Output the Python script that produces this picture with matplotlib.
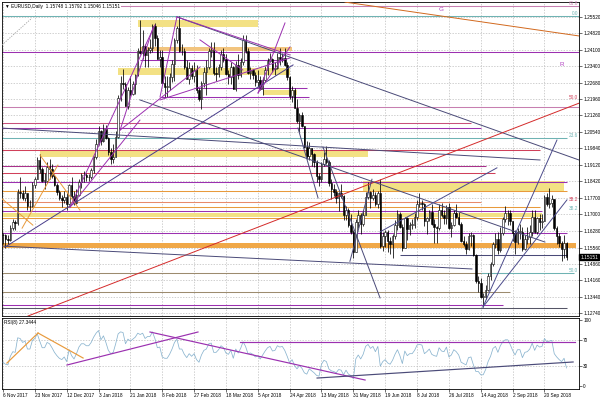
import matplotlib
matplotlib.use("Agg")
import matplotlib.pyplot as plt
import matplotlib.transforms as mtransforms
import numpy as np

plt.rcParams['font.family'] = ['Liberation Sans', 'DejaVu Sans']

# EURUSD daily bars, 6 Nov 2017 .. 4 Oct 2018
close = [
    1.1610, 1.1595, 1.1590, 1.1640, 1.1665, 1.1663, 1.1795, 1.1793, 1.1770, 1.1790, 1.1735, 1.1735, 1.1825,
    1.1853, 1.1935, 1.1895, 1.1845, 1.1845, 1.1905, 1.1895, 1.1865, 1.1825, 1.1795, 1.1770, 1.1760, 1.1775,
    1.1745, 1.1825, 1.1780, 1.1750, 1.1785, 1.1840, 1.1870, 1.1870, 1.1860, 1.1860, 1.1890, 1.1945, 1.2005,
    1.2060, 1.2015, 1.2068, 1.2030, 1.1967, 1.1937, 1.1948, 1.2035, 1.2200, 1.2265, 1.2260, 1.2165, 1.2235,
    1.2220, 1.2260, 1.2300, 1.2405, 1.2395, 1.2425, 1.2385, 1.2410, 1.2415, 1.2510, 1.2460, 1.2370, 1.2380,
    1.2265, 1.2250, 1.2250, 1.2290, 1.2350, 1.2450, 1.2505, 1.2405, 1.2405, 1.2337, 1.2285, 1.2330, 1.2295,
    1.2320, 1.2235, 1.2195, 1.2265, 1.2315, 1.2335, 1.2405, 1.2410, 1.2310, 1.2305, 1.2335, 1.2390, 1.2370,
    1.2305, 1.2290, 1.2335, 1.2240, 1.2345, 1.2300, 1.2355, 1.2450, 1.2405, 1.2310, 1.2320, 1.2300, 1.2270,
    1.2280, 1.2240, 1.2280, 1.2320, 1.2360, 1.2370, 1.2325, 1.2330, 1.2380, 1.2370, 1.2375, 1.2345, 1.2290,
    1.2210, 1.2235, 1.2160, 1.2100, 1.2130, 1.2080, 1.1990, 1.1950, 1.1985, 1.1960, 1.1925, 1.1865, 1.1850,
    1.1915, 1.1940, 1.1925, 1.1835, 1.1810, 1.1795, 1.1770, 1.1790, 1.1780, 1.1695, 1.1720, 1.1655, 1.1625,
    1.1535, 1.1665, 1.1695, 1.1660, 1.1695, 1.1775, 1.1795, 1.1770, 1.1785, 1.1745, 1.1790, 1.1565, 1.1605,
    1.1625, 1.1585, 1.1570, 1.1605, 1.1655, 1.1700, 1.1645, 1.1555, 1.1685, 1.1635, 1.1655, 1.1655, 1.1690,
    1.1745, 1.1750, 1.1745, 1.1670, 1.1685, 1.1710, 1.1660, 1.1645, 1.1640, 1.1720, 1.1695, 1.1685, 1.1730,
    1.1640, 1.1655, 1.1705, 1.1690, 1.1660, 1.1585, 1.1570, 1.1550, 1.1605, 1.1610, 1.1525, 1.1410, 1.1405,
    1.1345, 1.1345, 1.1375, 1.1435, 1.1485, 1.1570, 1.1595, 1.1545, 1.1620, 1.1680, 1.1705, 1.1705, 1.1670,
    1.1620, 1.1580, 1.1625, 1.1625, 1.1550, 1.1595, 1.1600, 1.1625, 1.1690, 1.1625, 1.1685, 1.1665, 1.1670,
    1.1775, 1.1745, 1.1750, 1.1765, 1.1640, 1.1605, 1.1575, 1.1550, 1.1575, 1.15151,
]
high = [
    1.1620, 1.1615, 1.1610, 1.1655, 1.1680, 1.1675, 1.1810, 1.1860, 1.1805, 1.1820, 1.1790, 1.1760, 1.1840,
    1.1860, 1.1945, 1.1960, 1.1905, 1.1880, 1.1925, 1.1940, 1.1915, 1.1875, 1.1835, 1.1805, 1.1785, 1.1800,
    1.1790, 1.1830, 1.1860, 1.1800, 1.1810, 1.1850, 1.1880, 1.1885, 1.1880, 1.1875, 1.1900, 1.1950, 1.2025,
    1.2080, 1.2065, 1.2090, 1.2085, 1.2035, 1.1985, 1.2005, 1.2060, 1.2215, 1.2295, 1.2325, 1.2270, 1.2250,
    1.2295, 1.2275, 1.2305, 1.2415, 1.2537, 1.2495, 1.2435, 1.2420, 1.2455, 1.2520, 1.2525, 1.2475, 1.2410,
    1.2410, 1.2295, 1.2295, 1.2310, 1.2365, 1.2460, 1.2510, 1.2555, 1.2435, 1.2415, 1.2365, 1.2355, 1.2345,
    1.2355, 1.2345, 1.2245, 1.2275, 1.2335, 1.2365, 1.2415, 1.2445, 1.2445, 1.2335, 1.2350, 1.2410, 1.2415,
    1.2390, 1.2320, 1.2355, 1.2340, 1.2360, 1.2390, 1.2375, 1.2475, 1.2475, 1.2415, 1.2335, 1.2325, 1.2315,
    1.2320, 1.2295, 1.2290, 1.2340, 1.2375, 1.2395, 1.2375, 1.2355, 1.2395, 1.2415, 1.2395, 1.2415, 1.2355,
    1.2295, 1.2255, 1.2245, 1.2195, 1.2135, 1.2140, 1.2080, 1.2015, 1.2010, 1.1985, 1.1965, 1.1935, 1.1880,
    1.1925, 1.1970, 1.1995, 1.1935, 1.1850, 1.1830, 1.1810, 1.1795, 1.1830, 1.1785, 1.1735, 1.1725, 1.1700,
    1.1630, 1.1680, 1.1720, 1.1705, 1.1720, 1.1795, 1.1840, 1.1800, 1.1810, 1.1795, 1.1800, 1.1850, 1.1625,
    1.1630, 1.1630, 1.1600, 1.1615, 1.1675, 1.1720, 1.1710, 1.1660, 1.1690, 1.1690, 1.1665, 1.1680, 1.1705,
    1.1760, 1.1790, 1.1760, 1.1750, 1.1690, 1.1720, 1.1745, 1.1680, 1.1650, 1.1745, 1.1750, 1.1720, 1.1740,
    1.1750, 1.1665, 1.1720, 1.1745, 1.1710, 1.1665, 1.1605, 1.1585, 1.1620, 1.1625, 1.1615, 1.1530, 1.1435,
    1.1425, 1.1360, 1.1395, 1.1445, 1.1495, 1.1580, 1.1620, 1.1625, 1.1645, 1.1690, 1.1735, 1.1720, 1.1720,
    1.1625, 1.1630, 1.1640, 1.1660, 1.1645, 1.1610, 1.1645, 1.1655, 1.1720, 1.1720, 1.1690, 1.1700, 1.1700,
    1.1785, 1.1790, 1.1815, 1.1785, 1.1765, 1.1650, 1.1620, 1.1585, 1.1610, 1.15792,
]
low = [
    1.1570, 1.1555, 1.1570, 1.1585, 1.1630, 1.1630, 1.1655, 1.1770, 1.1760, 1.1755, 1.1720, 1.1715, 1.1730,
    1.1815, 1.1850, 1.1880, 1.1840, 1.1810, 1.1835, 1.1850, 1.1855, 1.1820, 1.1785, 1.1760, 1.1730, 1.1750,
    1.1718, 1.1740, 1.1770, 1.1740, 1.1745, 1.1780, 1.1815, 1.1840, 1.1845, 1.1845, 1.1850, 1.1880, 1.1940,
    1.2000, 1.2000, 1.2010, 1.2025, 1.1955, 1.1915, 1.1920, 1.1950, 1.2030, 1.2190, 1.2240, 1.2165, 1.2155,
    1.2210, 1.2215, 1.2220, 1.2295, 1.2390, 1.2370, 1.2335, 1.2335, 1.2395, 1.2400, 1.2425, 1.2370, 1.2335,
    1.2260, 1.2205, 1.2205, 1.2235, 1.2270, 1.2275, 1.2440, 1.2400, 1.2385, 1.2325, 1.2285, 1.2260, 1.2285,
    1.2270, 1.2225, 1.2190, 1.2155, 1.2250, 1.2215, 1.2325, 1.2380, 1.2300, 1.2275, 1.2290, 1.2320, 1.2355,
    1.2300, 1.2260, 1.2260, 1.2240, 1.2230, 1.2285, 1.2290, 1.2345, 1.2395, 1.2305, 1.2285, 1.2285, 1.2255,
    1.2250, 1.2235, 1.2215, 1.2270, 1.2300, 1.2355, 1.2315, 1.2300, 1.2325, 1.2345, 1.2355, 1.2340, 1.2280,
    1.2195, 1.2185, 1.2160, 1.2095, 1.2055, 1.2075, 1.1985, 1.1940, 1.1935, 1.1910, 1.1905, 1.1840, 1.1820,
    1.1840, 1.1910, 1.1915, 1.1820, 1.1765, 1.1780, 1.1750, 1.1715, 1.1770, 1.1675, 1.1675, 1.1645, 1.1615,
    1.1510, 1.1535, 1.1640, 1.1615, 1.1650, 1.1700, 1.1765, 1.1725, 1.1760, 1.1735, 1.1725, 1.1555, 1.1540,
    1.1560, 1.1535, 1.1530, 1.1510, 1.1595, 1.1630, 1.1640, 1.1540, 1.1580, 1.1590, 1.1610, 1.1635, 1.1640,
    1.1675, 1.1730, 1.1720, 1.1650, 1.1615, 1.1670, 1.1655, 1.1575, 1.1575, 1.1630, 1.1690, 1.1660, 1.1660,
    1.1635, 1.1600, 1.1650, 1.1685, 1.1655, 1.1580, 1.1565, 1.1530, 1.1545, 1.1565, 1.1520, 1.1405, 1.1365,
    1.1340, 1.1300, 1.1335, 1.1370, 1.1415, 1.1475, 1.1555, 1.1530, 1.1535, 1.1610, 1.1665, 1.1655, 1.1655,
    1.1585, 1.1530, 1.1570, 1.1595, 1.1540, 1.1545, 1.1570, 1.1570, 1.1605, 1.1620, 1.1615, 1.1630, 1.1640,
    1.1670, 1.1735, 1.1725, 1.1730, 1.1630, 1.1570, 1.1560, 1.1500, 1.1510, 1.15046,
]
first_open = 1.1612

# RSI(8)
rsi = [
    36, 33, 32, 45, 52, 51, 73, 72, 66, 68, 56, 56, 69,
    72, 79, 68, 58, 58, 66, 64, 58, 51, 46, 42, 40, 44,
    37, 55, 46, 41, 49, 59, 64, 64, 61, 61, 66, 74, 80,
    84, 70, 76, 66, 54, 49, 51, 64, 79, 82, 81, 64, 71,
    68, 71, 74, 80, 78, 80, 72, 75, 75, 82, 72, 58, 59,
    44, 42, 42, 48, 56, 66, 71, 56, 56, 48, 43, 49, 45,
    49, 40, 36, 47, 54, 56, 64, 65, 51, 51, 55, 61, 58,
    50, 48, 54, 42, 56, 50, 57, 67, 60, 49, 50, 48, 44,
    46, 41, 47, 53, 58, 60, 53, 54, 61, 59, 60, 54, 45,
    35, 40, 31, 26, 31, 27, 20, 18, 26, 23, 20, 16, 15,
    33, 39, 37, 26, 23, 22, 20, 25, 24, 17, 24, 18, 16,
    11, 41, 47, 41, 48, 60, 63, 57, 60, 52, 60, 30, 37,
    40, 35, 33, 39, 48, 55, 46, 34, 53, 46, 49, 49, 54,
    62, 63, 62, 49, 52, 56, 48, 46, 45, 58, 53, 52, 59,
    44, 47, 55, 52, 47, 36, 34, 32, 43, 44, 32, 22, 22,
    17, 17, 25, 37, 45, 57, 60, 51, 61, 67, 70, 70, 63,
    54, 47, 55, 55, 43, 51, 52, 56, 65, 54, 62, 59, 60,
    72, 67, 68, 69, 49, 44, 40, 37, 42, 27.3444,
]

date_labels = ["6 Nov 2017", "23 Nov 2017", "12 Dec 2017", "3 Jan 2018", "21 Jan 2018",
               "8 Feb 2018", "27 Feb 2018", "18 Mar 2018", "5 Apr 2018", "24 Apr 2018",
               "13 May 2018", "31 May 2018", "19 Jun 2018", "8 Jul 2018", "26 Jul 2018",
               "14 Aug 2018", "2 Sep 2018", "20 Sep 2018"]
bars_per_label = 13
price_ticks = [1.25520, 1.24820, 1.24100, 1.23400, 1.22680, 1.21960, 1.21260, 1.20540,
               1.19840, 1.19120, 1.18420, 1.17700, 1.17000, 1.16280, 1.15560, 1.14860,
               1.14160, 1.13440, 1.12740]
rsi_ticks = [0, 30, 70, 100]

# horizontal levels: price, first bar, last bar
lvl_price = [1.2598, 1.2555, 1.2400, 1.2163, 1.2365, 1.2244, 1.2206, 1.2094, 1.2072, 1.2029,
             1.1977, 1.1908, 1.1878, 1.1839, 1.1800, 1.1753, 1.1731, 1.1714, 1.1684, 1.1619,
             1.1524, 1.1446, 1.1446, 1.1364, 1.1308, 1.1295]
lvl_start = [40, -1, -1, -1, 56, 78, 64, -1, -1, -1,
             -1, -1, -1, -1, -1, -1, -1, -1, -1, -1,
             162, -1, 195, -1, -1, -1]
lvl_end = [236, 236, 236, 236, 115, 124, 125, 191, 195, 230,
           219, 197, 201, 230, 230, 195, 219, 220, 220, 230,
           230, 207, 233, 207, 204, 230]

# shaded zones: low, high, first bar, last bar
band_lo = [1.2508, 1.2404, 1.2301, 1.2214, 1.1947, 1.1796, 1.1688, 1.1554]
band_hi = [1.2538, 1.2421, 1.2331, 1.2236, 1.1977, 1.1843, 1.1705, 1.1576]
band_start = [55, 56, 47, 106, 15, 147, -1, -1]
band_end = [104, 118, 117, 120, 149, 229, 220, 234]

# trend lines: (bar, price) -> (bar, price)
tl_x0 = [139.6, 71.0, 10.2, 0.8, -1.2, -1.2, 55.9, 120.4, 130.6, 141.6, 195.9, 195.9, 153.9,
         -1.2, 7.8, 15.1, 47.8, 27.3, 27.3, 47.8, 71.0, 64.1, 71.0, 104.1, 104.1, 80.4]
tl_p0 = [1.2615, 1.2551, 1.1261, 1.1558, 1.2072, 1.1563, 1.2193, 1.2072, 1.1990, 1.1497, 1.1300, 1.1300, 1.1624,
         1.1774, 1.1640, 1.1955, 1.2063, 1.1729, 1.1729, 1.2063, 1.2551, 1.2193, 1.2551, 1.2223, 1.2223, 1.2452]
tl_x1 = [235.1, 235.1, 235.1, 118.4, 219.2, 191.4, 221.2, 128.6, 153.9, 150.6, 226.1, 230.2, 201.6,
         12.2, 22.4, 31.4, 61.2, 55.9, 62.0, 80.4, 117.1, 117.1, 64.1, 115.1, 117.1, 97.9]
tl_p1 = [1.2469, 1.1934, 1.2179, 1.2344, 1.1934, 1.1464, 1.1580, 1.1770, 1.1339, 1.1851, 1.2020, 1.1762, 1.1900,
         1.1653, 1.1912, 1.1718, 1.2503, 1.2106, 1.2516, 1.2335, 1.2387, 1.2374, 1.2206, 1.2525, 1.2421, 1.2322]

# RSI panel lines
r_x0 = [1.6, 14.3, 26.1, 60.0, 96.7, 128.2]
r_v0 = [34.8, 80.3, 31.8, 81.8, 66.7, 12.1]
r_x1 = [14.3, 32.7, 79.6, 147.8, 233.5, 232.7]
r_v1 = [80.3, 42.4, 81.8, 9.1, 66.7, 36.4]

fib_text = ["61.8", "0.0", "50.0", "23.6", "38.2", "38.2", "50.0"]
fib_price = [1.2598, 1.2555, 1.2193, 1.2029, 1.1753, 1.1714, 1.1446]

# colours
MAUVE, TEAL, PURPLE, PINK = '#c77fb0', '#6fb3b3', '#9b30b0', '#c8507a'
CRIMSON, MAGENTA, ORANGE, SALMON = '#d0405a', '#a8308a', '#e89a3c', '#e88a6a'
SLATE, TAUPE, DGRAY = '#4a4a78', '#9c8b6e', '#555566'
YELLOW, LORANGE = '#f3e184', '#f2c47e'

lvl_color = [MAUVE, TEAL, PURPLE, MAUVE, PURPLE, PURPLE, PURPLE, PINK, PURPLE, TEAL,
             CRIMSON, MAGENTA, CRIMSON, PURPLE, ORANGE, SALMON, ORANGE, PURPLE, ORANGE, PURPLE,
             SLATE, TAUPE, TEAL, TAUPE, PURPLE, DGRAY]
band_color = [YELLOW, LORANGE, YELLOW, YELLOW, YELLOW, YELLOW, YELLOW, '#f0a848']
tl_color = ['#d2691e', SLATE, '#d42a2a', '#483d8b', SLATE, SLATE, SLATE, SLATE, SLATE, SLATE,
            '#4b4b8b', '#4b4b8b', '#4b4b8b',
            ORANGE, ORANGE, ORANGE, PURPLE, PURPLE, PURPLE, PURPLE, PURPLE, PURPLE, PURPLE,
            PURPLE, PURPLE, PURPLE]
r_color = [ORANGE, ORANGE, PURPLE, PURPLE, PURPLE, SLATE]
fib_color = [MAUVE, TEAL, CRIMSON, TEAL, CRIMSON, TEAL, TEAL]

n = min(len(close), len(high), len(low))
idx = np.arange(n)
c = np.array(close[:n])
o = np.r_[first_open, c[:-1]]
h = np.maximum(np.array(high[:n]), np.maximum(o, c))
l = np.minimum(np.array(low[:n]), np.minimum(o, c))

fig = plt.figure(figsize=(6, 4), dpi=100)
ax = fig.add_axes([2 / 600, 84 / 400, 577 / 600, 314 / 400])
ax2 = fig.add_axes([2 / 600, 11 / 400, 577 / 600, 71 / 400], sharex=ax)

xmin, xmax = -0.4, 235.1
ax.set_xlim(xmin, xmax)
ax.set_ylim(1.12611, 1.26154)
ax2.set_ylim(-4.5, 103)

label_pos = [k * bars_per_label for k in range(len(date_labels))]
grid_kw = dict(color='#bcbcbc', lw=0.5, ls=(0, (2, 2)), zorder=0)
for a in (ax, ax2):
    for x in label_pos:
        a.axvline(x, **grid_kw)
for p in price_ticks:
    ax.axhline(p, **grid_kw)
for v in (30, 70):
    ax2.axhline(v, **grid_kw)

# zones and levels
for lo, hi, s, e, col in zip(band_lo, band_hi, band_start, band_end, band_color):
    ax.fill_between([s, e], lo, hi, color=col, lw=0, zorder=1)
for p, s, e, col in zip(lvl_price, lvl_start, lvl_end, lvl_color):
    ax.plot([s, e], [p, p], color=col, lw=0.75, zorder=2, solid_capstyle='butt')

# candles
ax.vlines(idx, l, h, color='black', lw=0.55, zorder=3)
up = c >= o
bottom = np.minimum(o, c)
height = np.maximum(np.abs(c - o), 0.00012)
ax.bar(idx[up], height[up], bottom=bottom[up], width=0.62, color='white',
       edgecolor='black', lw=0.4, zorder=4)
ax.bar(idx[~up], height[~up], bottom=bottom[~up], width=0.62, color='black',
       edgecolor='black', lw=0.4, zorder=4)

# trend lines
for x0, p0, x1, p1, col in zip(tl_x0, tl_p0, tl_x1, tl_p1, tl_color):
    ax.plot([x0, x1], [p0, p1], color=col, lw=0.7, zorder=5)
ax.plot([-0.4, 11.8], [1.2430, 1.2546], color='#a0a0a0', lw=0.6, ls=(0, (1.5, 1.5)), zorder=5)

# fib / object labels
for t, p, col in zip(fib_text, fib_price, fib_color):
    ax.text(234.8, p, t, color=col, fontsize=3.4, ha='right', va='bottom', zorder=6)
ax.text(178.8, 1.2581, 'G', color='#b040c0', fontsize=4.5, ha='center', va='center')
ax.text(228.2, 1.2344, 'R', color='#b040c0', fontsize=4.5, ha='center', va='center')

ax.text(0.006, 0.994, '\u25bc EURUSD,Daily  1.15748 1.15792 1.15046 1.15151',
        transform=ax.transAxes, fontsize=3.4, va='top', ha='left', zorder=7,
        bbox=dict(facecolor='white', edgecolor='none', pad=0.6))

# price axis
ax.yaxis.tick_right()
ax.set_yticks(price_ticks)
ax.set_yticklabels([f'{p:.5f}' for p in price_ticks])
ax.tick_params(axis='y', labelsize=3.4, length=2, width=0.4, pad=1)
ax.tick_params(axis='x', labelbottom=False, length=0)

trans = mtransforms.blended_transform_factory(ax.transAxes, ax.transData)
ax.text(1.002, c[-1], f'{c[-1]:.5f}', transform=trans, color='white', fontsize=3.4,
        va='center', ha='left', clip_on=False, zorder=8,
        bbox=dict(facecolor='black', edgecolor='black', pad=0.5))

# RSI panel
ax2.plot(idx, rsi[:n], color='#8ab4cf', lw=0.55, zorder=3)
for x0, v0, x1, v1, col in zip(r_x0, r_v0, r_x1, r_v1, r_color):
    ax2.plot([x0, x1], [v0, v1], color=col, lw=0.85, zorder=4)
ax2.text(0.004, 0.97, f'RSI(8) {rsi[n - 1]:.4f}', transform=ax2.transAxes,
         fontsize=3.4, va='top', ha='left')
ax2.yaxis.tick_right()
ax2.set_yticks(rsi_ticks)
ax2.set_yticklabels([str(v) for v in rsi_ticks])
ax2.tick_params(axis='y', labelsize=3.4, length=2, width=0.4, pad=1)
ax2.set_xticks(label_pos)
ax2.set_xticklabels(date_labels, ha='left')
ax2.tick_params(axis='x', labelsize=3.4, length=2, width=0.4, pad=1)

for a in (ax, ax2):
    for s in a.spines.values():
        s.set_linewidth(0.6)
        s.set_color('black')

fig.savefig('out.png', dpi=100, facecolor='white')
